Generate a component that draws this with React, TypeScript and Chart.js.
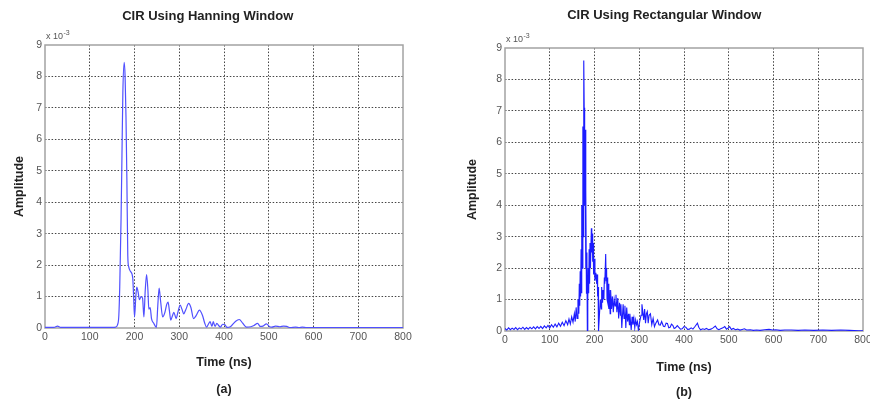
import React, { useEffect, useRef } from "react";
import { Chart, registerables } from "chart.js";

Chart.register(...registerables);

// ---- tick values ----
const timeTicks = [0, 100, 200, 300, 400, 500, 600, 700, 800];
const ampTicks = [0, 1, 2, 3, 4, 5, 6, 7, 8, 9];

// ---- Hanning window CIR (time in ns, amplitude in units of 1e-3) ----
const hanningTime = [
  0, 20, 28, 35, 100, 150, 158, 162, 165, 167, 170, 172, 174, 177, 179, 181, 183, 185, 187, 191,
  196, 198, 200, 203, 205, 208, 211, 215, 218, 221, 224, 227, 230, 232, 235, 238, 243, 249, 252, 255,
  258, 263, 268, 272, 275, 278, 281, 285, 288, 293, 297, 302, 306, 310, 315, 321, 326, 332, 338, 345,
  352, 357, 361, 365, 369, 373, 376, 380, 384, 388, 392, 397, 402, 407, 415, 425, 434, 442, 450, 460,
  467, 475, 481, 487, 495, 501, 507, 515, 525, 533, 540, 548, 560, 568, 575, 585, 600, 800,
];
const hanningAmp = [
  0.02, 0.02, 0.06, 0.02, 0.02, 0.02, 0.03, 0.1, 0.4, 1.3, 3.5, 5.5, 7.5, 8.45, 8.0, 6.7, 4.7, 2.3, 1.95, 1.8,
  1.6, 1.0, 0.35, 1.0, 1.3, 1.15, 0.9, 1.0, 0.95, 0.35, 1.2, 1.7, 1.2, 0.6, 0.65, 0.3, 0.15, 0.02, 0.7, 1.27,
  0.9, 0.35, 0.5, 0.75, 0.82, 0.55, 0.25, 0.4, 0.5, 0.3, 0.5, 0.73, 0.6, 0.45, 0.6, 0.78, 0.65, 0.3, 0.4, 0.57,
  0.4, 0.15, 0.03, 0.12, 0.2, 0.05, 0.2, 0.05, 0.15, 0.08, 0.03, 0.12, 0.1, 0.02, 0.05, 0.2, 0.27, 0.15, 0.03, 0.04,
  0.08, 0.15, 0.05, 0.06, 0.13, 0.05, 0.03, 0.06, 0.04, 0.06, 0.05, 0.01, 0.03, 0.01, 0.03, 0.01, 0.01, 0.01,
];

// ---- Rectangular window CIR (time in ns, amplitude in units of 1e-3) ----
const rectTime = [
  0, 4, 8, 12, 16, 20, 24, 28, 32, 36, 40, 44, 48, 52, 56, 60, 64, 68, 72, 76,
  80, 84, 88, 92, 96, 100, 104, 108, 112, 116, 120, 124, 128, 132, 136, 140, 143, 146, 149, 152,
  155, 157, 159, 161, 163, 165, 166, 167, 168, 169, 170, 171, 172, 173, 174, 175, 176, 177, 178, 179,
  180, 181, 182, 183, 184, 185, 186, 187, 188, 189, 190, 191, 193, 194, 195, 196, 197, 198, 199, 201,
  203, 205, 206, 207, 208, 209, 211, 213, 215, 216, 218, 219, 221, 222, 223, 225, 226, 227, 228, 229,
  230, 231, 232, 233, 235, 236, 238, 240, 242, 244, 246, 248, 250, 252, 254, 256, 258, 259, 261, 263,
  264, 266, 268, 270, 272, 274, 276, 278, 279, 282, 284, 286, 288, 290, 292, 294, 296, 298, 301, 304,
  306, 308, 310, 312, 314, 316, 318, 320, 322, 325, 328, 331, 334, 337, 341, 344, 347, 350, 354, 357,
  360, 363, 366, 369, 372, 375, 378, 381, 385, 388, 392, 396, 400, 404, 408, 412, 416, 420, 425, 430,
  433, 437, 442, 446, 450, 455, 460, 465, 470, 474, 478, 482, 487, 491, 495, 499, 502, 506, 510, 515,
  520, 525, 530, 535, 540, 548, 555, 562, 570, 580, 590, 598, 605, 615, 625, 640, 655, 670, 690, 710,
  730, 750, 770, 790, 800,
];
const rectAmp = [
  0.08, 0.03, 0.1, 0.04, 0.09, 0.05, 0.11, 0.04, 0.1, 0.06, 0.12, 0.05, 0.11, 0.06, 0.12, 0.07, 0.13, 0.07, 0.14, 0.08,
  0.15, 0.08, 0.16, 0.1, 0.18, 0.1, 0.2, 0.12, 0.22, 0.13, 0.25, 0.15, 0.28, 0.17, 0.33, 0.2, 0.38, 0.22, 0.45, 0.28,
  0.55, 0.3, 0.75, 0.4, 1.0, 0.55, 1.5, 0.8, 1.9, 1.1, 2.6, 1.2, 4.0, 2.0, 6.5, 3.0, 8.6, 7.1, 4.0, 6.4,
  2.0, 4.5, 1.2, 2.5, 0.0, 1.0, 2.0, 1.2, 2.6, 1.5, 2.8, 2.0, 3.27, 2.5, 3.1, 2.2, 2.8, 1.8, 2.3, 1.6,
  1.85, 1.5, 1.8, 1.1, 1.4, 0.0, 0.5, 1.0, 0.7, 1.4, 0.9, 1.3, 1.0, 1.7, 1.5, 2.45, 1.6, 2.0, 1.0, 1.7,
  0.9, 1.5, 0.7, 1.3, 0.55, 1.3, 0.7, 1.1, 0.6, 1.0, 0.8, 1.15, 0.6, 1.05, 0.4, 0.9, 0.5, 0.85, 0.1, 0.6,
  0.85, 0.4, 0.8, 0.1, 0.75, 0.3, 0.55, 0.2, 0.55, 0.03, 0.45, 0.2, 0.4, 0.1, 0.35, 0.2, 0.3, 0.03, 0.3, 0.5,
  0.85, 0.6, 0.35, 0.7, 0.25, 0.55, 0.62, 0.25, 0.5, 0.55, 0.2, 0.4, 0.14, 0.25, 0.35, 0.2, 0.19, 0.3, 0.15, 0.14,
  0.25, 0.24, 0.1, 0.12, 0.22, 0.18, 0.08, 0.1, 0.17, 0.12, 0.06, 0.07, 0.14, 0.12, 0.05, 0.06, 0.1, 0.06, 0.15, 0.25,
  0.12, 0.04, 0.07, 0.05, 0.08, 0.04, 0.06, 0.1, 0.16, 0.07, 0.04, 0.07, 0.1, 0.14, 0.06, 0.1, 0.14, 0.05, 0.08, 0.04,
  0.06, 0.03, 0.05, 0.07, 0.03, 0.04, 0.02, 0.03, 0.02, 0.04, 0.05, 0.03, 0.04, 0.02, 0.03, 0.03, 0.02, 0.03, 0.02, 0.03,
  0.02, 0.03, 0.02, 0.01, 0.01,
];

const FONT = "'Liberation Sans', Arial, Helvetica, sans-serif";

const decorPlugin = {
  id: "decor",
  beforeDatasetsDraw(chart: any) {
    const { ctx, chartArea } = chart;
    const { left, top, right, bottom } = chartArea;
    ctx.save();
    ctx.strokeStyle = "#a3a3a3";
    ctx.lineWidth = 1.5;
    ctx.strokeRect(left, top, right - left, bottom - top);
    ctx.restore();
  },
  afterDraw(chart: any) {
    const { ctx, chartArea } = chart;
    ctx.save();
    ctx.fillStyle = "#555";
    ctx.textBaseline = "middle";
    ctx.textAlign = "left";
    ctx.font = `9px ${FONT}`;
    const base = "x 10";
    const x0 = chartArea.left + 1;
    const y0 = chartArea.top - 8;
    ctx.fillText(base, x0, y0);
    const w = ctx.measureText(base).width;
    ctx.font = `7px ${FONT}`;
    ctx.fillText("-3", x0 + w + 0.5, y0 - 4);
    ctx.restore();
  },
};

type PanelProps = {
  left: number;
  width: number;
  title: string;
  letter: string;
  times: number[];
  amps: number[];
  color: string;
  lineWidth: number;
  smooth: boolean;
  padL: number;
  yW: number;
  padR: number;
  titleTop: number;
  titleBottom: number;
  xH: number;
  xTitleLH: number;
  xTitlePadB: number;
};

function Panel(p: PanelProps) {
  const ref = useRef<HTMLCanvasElement | null>(null);
  useEffect(() => {
    if (!ref.current) return;
    const edgeX = (c: any) =>
      c.tick && (c.tick.value === timeTicks[0] || c.tick.value === timeTicks[timeTicks.length - 1])
        ? "rgba(0,0,0,0)"
        : "#444";
    const edgeY = (c: any) =>
      c.tick && (c.tick.value === ampTicks[0] || c.tick.value === ampTicks[ampTicks.length - 1])
        ? "rgba(0,0,0,0)"
        : "#444";
    const chart = new Chart(ref.current, {
      type: "line",
      data: {
        datasets: [
          {
            data: p.times.map((t, i) => ({ x: t, y: p.amps[i] })),
            borderColor: p.color,
            borderWidth: p.lineWidth,
            pointRadius: 0,
            tension: p.smooth ? 0.4 : 0,
            cubicInterpolationMode: p.smooth ? "monotone" : "default",
            fill: false,
          },
        ],
      },
      options: {
        animation: false,
        responsive: false,
        maintainAspectRatio: false,
        layout: { padding: { left: p.padL, right: p.padR, top: 0, bottom: 0 } },
        plugins: {
          legend: { display: false },
          tooltip: { enabled: false },
          title: {
            display: true,
            text: p.title,
            color: "#222",
            font: { family: FONT, size: 13, weight: "bold", lineHeight: 1.2 },
            padding: { top: p.titleTop, bottom: p.titleBottom },
          },
        },
        scales: {
          x: {
            type: "linear",
            min: timeTicks[0],
            max: timeTicks[timeTicks.length - 1],
            afterBuildTicks: (s: any) => {
              s.ticks = timeTicks.map((v) => ({ value: v }));
            },
            afterFit: (s: any) => {
              s.height = p.xH;
            },
            ticks: {
              autoSkip: false,
              maxRotation: 0,
              padding: 3,
              color: "#555",
              font: { family: FONT, size: 10.5 },
            },
            grid: { color: edgeX, lineWidth: 1, drawTicks: false },
            border: { display: false, dash: [1.5, 1.8] },
            title: {
              display: true,
              text: ["Time (ns)", "", p.letter],
              color: "#222",
              font: { family: FONT, size: 12.5, weight: "bold", lineHeight: `${p.xTitleLH}px` },
              padding: { top: 0, bottom: p.xTitlePadB },
            },
          },
          y: {
            type: "linear",
            min: ampTicks[0],
            max: ampTicks[ampTicks.length - 1],
            afterBuildTicks: (s: any) => {
              s.ticks = ampTicks.map((v) => ({ value: v }));
            },
            afterFit: (s: any) => {
              s.width = p.yW;
            },
            ticks: {
              autoSkip: false,
              padding: 3,
              color: "#555",
              font: { family: FONT, size: 10.5 },
            },
            grid: { color: edgeY, lineWidth: 1, drawTicks: false },
            border: { display: false, dash: [1.5, 1.8] },
            title: {
              display: true,
              text: "Amplitude",
              color: "#222",
              font: { family: FONT, size: 12.5, weight: "bold", lineHeight: 1.2 },
              padding: { top: 0, bottom: 0 },
            },
          },
        },
      } as any,
      plugins: [decorPlugin],
    });
    return () => chart.destroy();
  }, []);
  return (
    <canvas
      ref={ref}
      width={p.width}
      height={402}
      style={{ position: "absolute", left: p.left, top: 0, width: p.width, height: 402 }}
    />
  );
}

export default function App() {
  return (
    <div
      style={{
        position: "fixed",
        left: 0,
        top: 0,
        width: 870,
        height: 402,
        overflow: "hidden",
        background: "#fff",
      }}
    >
      <Panel
        left={0}
        width={435}
        title="CIR Using Hanning Window"
        letter="(a)"
        times={hanningTime}
        amps={hanningAmp}
        color="#5050ff"
        lineWidth={1.2}
        smooth={true}
        padL={12.5}
        yW={32.5}
        padR={32}
        titleTop={8.2}
        titleBottom={21.2}
        xH={74}
        xTitleLH={13.5}
        xTitlePadB={5.25}
      />
      <Panel
        left={435}
        width={445}
        title="CIR Using Rectangular Window"
        letter="(b)"
        times={rectTime}
        amps={rectAmp}
        color="#1c1cff"
        lineWidth={1.1}
        smooth={false}
        padL={30.5}
        yW={39.5}
        padR={17}
        titleTop={7.2}
        titleBottom={25.2}
        xH={71}
        xTitleLH={12.5}
        xTitlePadB={2.75}
      />
    </div>
  );
}
